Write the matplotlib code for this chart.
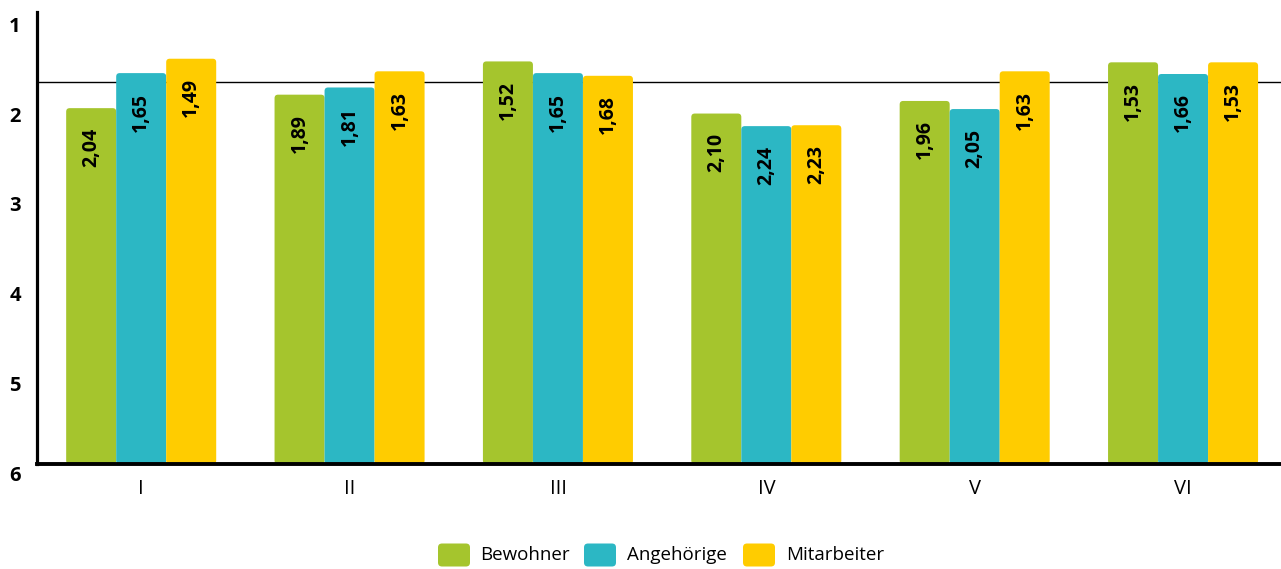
import matplotlib
matplotlib.use("Agg")
import matplotlib.pyplot as plt
import matplotlib.transforms as mtransforms
from matplotlib.patches import FancyBboxPatch
import numpy as np

categories = ["I", "II", "III", "IV", "V", "VI"]
series_names = ["Bewohner", "Angehörige", "Mitarbeiter"]
bewohner = [2.04, 1.89, 1.52, 2.10, 1.96, 1.53]
angehoerige = [1.65, 1.81, 1.65, 2.24, 2.05, 1.66]
mitarbeiter = [1.49, 1.63, 1.68, 2.23, 1.63, 1.53]
y_ticks = [1, 2, 3, 4, 5, 6]
ref_line = 1.75

colors = ["#A5C52D", "#2CB7C4", "#FFCC00"]
plt.rcParams["font.family"] = ["Open Sans", "DejaVu Sans"]

fig = plt.figure(figsize=(12.81, 5.69), dpi=100)
ax = fig.add_axes([37 / 1281, 1 - 464 / 569, 1 - 37 / 1281, (464 - 12) / 569])

x = np.arange(len(categories))
w = 0.24
offsets = [-w, 0, w]
base = 6
ax.set_ylim(6, 0.97)
ax.set_xlim(-0.5, 5.47)
# aspect between x-unit and y-unit in pixels for rounded corners
px_x = 1244 / 5.97
px_y = 452 / 5.03
aspect = px_x / px_y

ax.axhline(ref_line, color="black", lw=1.0, zorder=1)
for vals, off, c in zip([bewohner, angehoerige, mitarbeiter], offsets, colors):
    heights = [base - v for v in vals]
    bars = ax.bar(x + off, heights, bottom=vals, width=w, color=c, zorder=2)
    for b in bars:
        b.set_visible(False)
        p = FancyBboxPatch((b.get_x(), b.get_y()), b.get_width(), b.get_height(),
                           boxstyle="round,pad=0,rounding_size=%f" % (3.5 / px_x),
                           mutation_aspect=aspect, facecolor=c, edgecolor="none", zorder=2)
        ax.add_patch(p)
    for xi, v in zip(x + off, vals):
        ax.annotate(f"{v:.2f}".replace(".", ","), (xi, v), xytext=(0, -14),
                    textcoords="offset points", rotation=90, ha="center", va="top",
                    fontsize=14, fontweight="bold", color="black", zorder=3)

ax.spines["top"].set_visible(False)
ax.spines["right"].set_visible(False)
ax.spines["left"].set_linewidth(2.3)
ax.spines["bottom"].set_linewidth(2.8)
ax.spines["bottom"].set_zorder(4)
ax.set_yticks([])
ax.set_xticks(x)
ax.set_xticklabels(categories, fontsize=14.5)
ax.tick_params(axis="x", length=0, pad=11)

trans = mtransforms.blended_transform_factory(ax.transAxes, ax.transData)
off = mtransforms.ScaledTranslation(0, -12 / 100, fig.dpi_scale_trans)
for t in y_ticks:
    ax.text(-22 / 1244, t, str(t), transform=trans + off, ha="center", va="center",
            fontsize=14.5, fontweight="bold", clip_on=False)

# legend: rounded swatches + text
leg_patch_x = [438, 584, 743]
leg_text_x = [480, 627, 786]
yc = 1 - 555 / 569
for px, tx, c, name in zip(leg_patch_x, leg_text_x, colors, series_names):
    sw = FancyBboxPatch((px / 1281, yc - 11.5 / 569), 32 / 1281, 23 / 569,
                        boxstyle="round,pad=0,rounding_size=%f" % (4 / 1281),
                        mutation_aspect=1281 / 569, transform=fig.transFigure,
                        facecolor=c, edgecolor="none")
    fig.patches.append(sw)
    fig.text(tx / 1281, yc, name, ha="left", va="center", fontsize=13.5)

fig.savefig("out.png", dpi=100)
